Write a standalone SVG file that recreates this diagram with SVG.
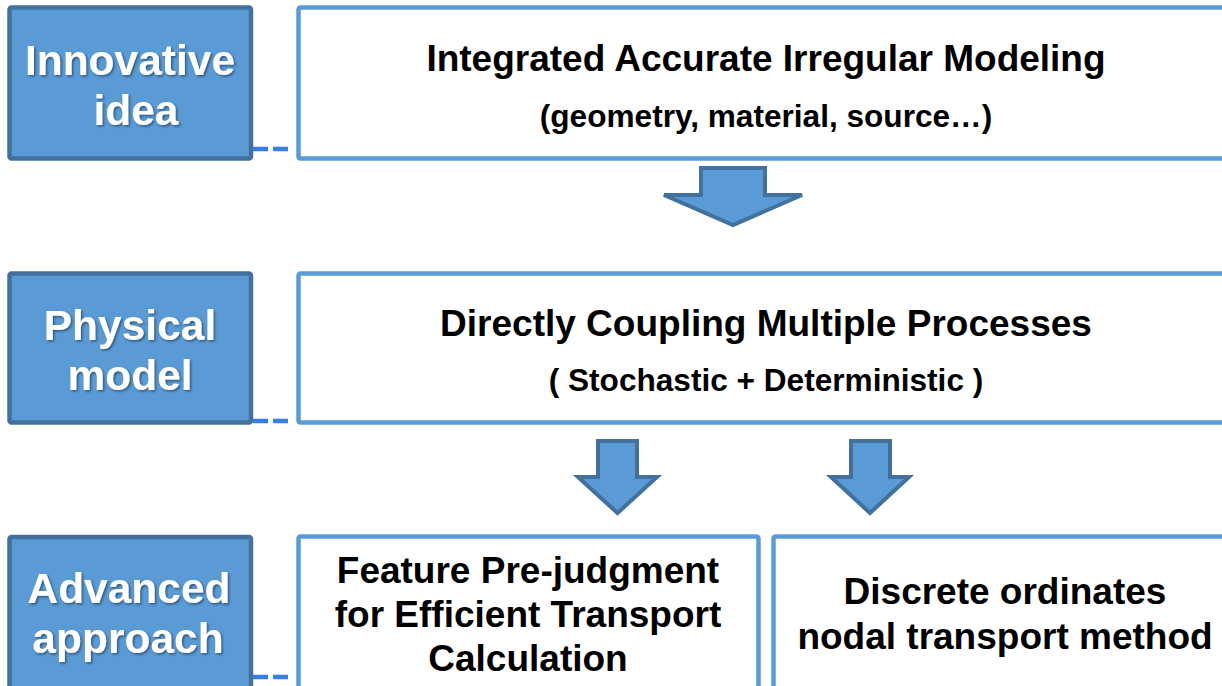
<svg xmlns="http://www.w3.org/2000/svg" width="1222" height="686" viewBox="0 0 1222 686">
<defs>
<filter id="sh" x="-10%" y="-10%" width="120%" height="130%">
<feDropShadow dx="1.5" dy="1.5" stdDeviation="1" flood-color="#1f3b5a" flood-opacity="0.7"/>
</filter>
<style>
.lbl{fill:#5b9bd5;stroke:#41719c;stroke-width:4.5}
.box{fill:#ffffff;stroke:#5b9bd5;stroke-width:4.5}
.arr{fill:#5b9bd5;stroke:#41719c;stroke-width:4;stroke-linejoin:miter}
.lt{font-family:"Liberation Sans",Arial,sans-serif;font-weight:bold;font-size:42.5px;fill:#ffffff;text-anchor:middle}
.t{font-family:"Liberation Sans",Arial,sans-serif;font-weight:bold;font-size:37px;fill:#000000;text-anchor:middle}
.s{font-family:"Liberation Sans",Arial,sans-serif;font-weight:bold;font-size:31.6px;fill:#000000;text-anchor:middle}
.dash{stroke:#3b7be6;stroke-width:4.5;stroke-dasharray:15 5;fill:none}
</style>
</defs>
<rect width="1222" height="686" fill="#ffffff"/>
<g id="label-innovative">
<rect class="lbl" x="9.5" y="7.5" width="241.5" height="151" rx="2"/>
<g filter="url(#sh)"><text class="lt" x="130" y="75">Innovative</text><text class="lt" x="136" y="125">idea</text></g>
</g>
<g id="label-physical">
<rect class="lbl" x="9.5" y="273.5" width="241.5" height="149" rx="2"/>
<g filter="url(#sh)"><text class="lt" x="130" y="340">Physical</text><text class="lt" x="130" y="390">model</text></g>
</g>
<g id="label-advanced">
<rect class="lbl" x="9.5" y="537" width="241.5" height="170" rx="2"/>
<g filter="url(#sh)"><text class="lt" x="129" y="603">Advanced</text><text class="lt" x="128" y="653">approach</text></g>
</g>
<g id="box-modeling">
<rect class="box" x="298.5" y="7.5" width="940" height="151" rx="2"/>
<text class="t" x="766" y="71">Integrated Accurate Irregular Modeling</text>
<text class="s" x="766" y="127">(geometry, material, source…)</text>
</g>
<g id="box-coupling">
<rect class="box" x="298.5" y="273.5" width="940" height="149" rx="2"/>
<text class="t" x="766" y="336">Directly Coupling Multiple Processes</text>
<text class="s" x="766" y="391">( Stochastic + Deterministic )</text>
</g>
<g id="box-feature">
<rect class="box" x="298.5" y="536.5" width="460" height="170" rx="2"/>
<text class="t" x="528" y="583">Feature Pre-judgment</text>
<text class="t" x="528" y="627">for Efficient Transport</text>
<text class="t" x="528" y="671">Calculation</text>
</g>
<g id="box-discrete">
<rect class="box" x="773.5" y="536.5" width="470" height="170" rx="2"/>
<text class="t" x="1005" y="604">Discrete ordinates</text>
<text class="t" x="1005" y="649">nodal transport method</text>
</g>
<g id="connectors">
<line class="dash" x1="253" y1="149" x2="290" y2="149"/>
<line class="dash" x1="253" y1="421" x2="290" y2="421"/>
<line class="dash" x1="253" y1="677" x2="290" y2="677"/>
<path class="arr" d="M701,168 L765,168 L765,195 L802,195 L733,225 L664,195 L701,195 Z"/>
<path class="arr" d="M598,441 L637,441 L637,477 L657,477 L617.5,513 L578,477 L598,477 Z"/>
<path class="arr" d="M851,441 L890,441 L890,477 L909,477 L870,513 L831,477 L851,477 Z"/>
</g>
</svg>
